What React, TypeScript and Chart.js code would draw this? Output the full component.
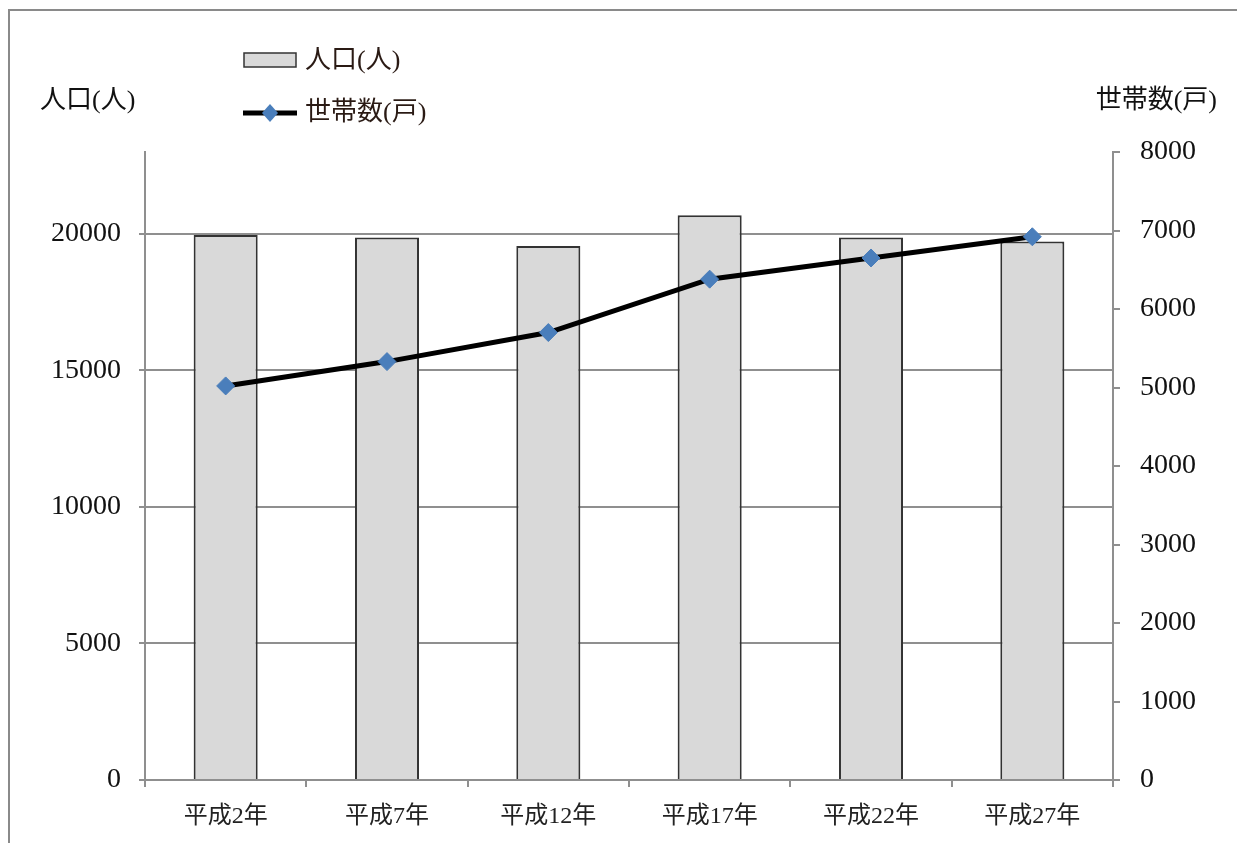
import React, { useEffect, useRef } from 'react';
import { Chart, registerables } from 'chart.js';

Chart.register(...registerables);

const categories = ['平成2年', '平成7年', '平成12年', '平成17年', '平成22年', '平成27年'];
const population = [19960, 19870, 19560, 20680, 19870, 19720];
const households = [5020, 5330, 5700, 6380, 6650, 6920];
const leftTicks = [0, 5000, 10000, 15000, 20000];
const rightTicks = [0, 1000, 2000, 3000, 4000, 5000, 6000, 7000, 8000];
const leftMax = 23000;
const rightMax = 8000;
const populationLabel = '人口(人)';
const householdsLabel = '世帯数(戸)';

const FONT = '"Liberation Serif", "Noto Sans CJK JP", serif';
const GRID = '#8f8f8f';
const BAR_FILL = '#d9d9d9';
const BAR_EDGE = '#333333';
const POINT = '#4a7ebb';

const overlayPlugin = {
  id: 'overlay',
  beforeDraw(chart: any) {
    const ctx = chart.ctx;
    ctx.save();
    ctx.fillStyle = '#ffffff';
    ctx.fillRect(0, 0, chart.width, chart.height);
    ctx.strokeStyle = '#8a8a8a';
    ctx.lineWidth = 2;
    ctx.beginPath();
    ctx.moveTo(9, chart.height);
    ctx.lineTo(9, 10);
    ctx.lineTo(chart.width, 10);
    ctx.stroke();
    ctx.restore();
  },
  afterDraw(chart: any) {
    const ctx = chart.ctx;
    ctx.save();
    ctx.font = `26px ${FONT}`;
    ctx.fillStyle = '#111';
    ctx.textBaseline = 'middle';
    ctx.textAlign = 'left';
    // axis titles
    ctx.fillText(populationLabel, 40, 101);
    ctx.textAlign = 'right';
    ctx.fillText(householdsLabel, 1217, 101);
    // legend: bar
    ctx.textAlign = 'left';
    ctx.fillStyle = BAR_FILL;
    ctx.fillRect(244, 53, 52, 14);
    ctx.strokeStyle = BAR_EDGE;
    ctx.lineWidth = 1.5;
    ctx.strokeRect(244, 53, 52, 14);
    ctx.fillStyle = '#2a1a14';
    ctx.fillText(populationLabel, 305, 61);
    // legend: line
    ctx.strokeStyle = '#000';
    ctx.lineWidth = 5;
    ctx.beginPath();
    ctx.moveTo(243, 113);
    ctx.lineTo(297, 113);
    ctx.stroke();
    ctx.fillStyle = POINT;
    ctx.beginPath();
    ctx.moveTo(270, 104);
    ctx.lineTo(278, 113);
    ctx.lineTo(270, 122);
    ctx.lineTo(262, 113);
    ctx.closePath();
    ctx.fill();
    ctx.fillStyle = '#2a1a14';
    ctx.fillText(householdsLabel, 305, 113);
    ctx.restore();
  },
};

export default function App() {
  const ref = useRef<HTMLCanvasElement | null>(null);
  useEffect(() => {
    if (!ref.current) return;
    const chart = new Chart(ref.current, {
      type: 'bar',
      data: {
        labels: categories,
        datasets: [
          {
            type: 'line',
            label: householdsLabel,
            data: households,
            yAxisID: 'y1',
            borderColor: '#000',
            borderWidth: 5,
            tension: 0,
            pointStyle: 'rectRot',
            pointRadius: 9,
            pointBackgroundColor: POINT,
            pointBorderColor: POINT,
            pointBorderWidth: 1,
            order: 0,
          } as any,
          {
            type: 'bar',
            label: populationLabel,
            data: population,
            yAxisID: 'y',
            backgroundColor: BAR_FILL,
            borderColor: BAR_EDGE,
            borderWidth: 2,
            barPercentage: 1,
            categoryPercentage: 0.397,
            order: 1,
          },
        ],
      },
      options: {
        responsive: false,
        animation: false,
        layout: { padding: { top: 152, left: 0, right: 0, bottom: 0 } },
        plugins: { legend: { display: false }, tooltip: { enabled: false } },
        scales: {
          x: {
            type: 'category',
            offset: true,
            grid: { offset: true, drawOnChartArea: false, drawTicks: true, tickLength: 7, color: GRID, lineWidth: 2 },
            border: { color: GRID, width: 2 },
            ticks: { font: { family: FONT, size: 24 }, color: '#222', padding: 15, maxRotation: 0 },
            afterFit: (s: any) => { s.height = 63; },
          },
          y: {
            position: 'left',
            min: 0,
            max: leftMax,
            afterBuildTicks: (s: any) => { s.ticks = leftTicks.map((v) => ({ value: v })); },
            grid: { color: GRID, lineWidth: 2, tickLength: 6 },
            border: { color: GRID, width: 2 },
            ticks: { font: { family: FONT, size: 28 }, color: '#111', padding: 18, callback: (v: any) => String(v) },
            afterFit: (s: any) => { s.width = 145; },
          },
          y1: {
            position: 'right',
            min: 0,
            max: rightMax,
            afterBuildTicks: (s: any) => { s.ticks = rightTicks.map((v) => ({ value: v })); },
            grid: { drawOnChartArea: false, color: GRID, lineWidth: 2, tickLength: 7 },
            border: { color: GRID, width: 2 },
            ticks: { font: { family: FONT, size: 28 }, color: '#111', padding: 20, callback: (v: any) => String(v) },
            afterFit: (s: any) => { s.width = 124; },
          },
        },
      },
      plugins: [overlayPlugin],
    });
    return () => chart.destroy();
  }, []);
  return (
    <div style={{ position: 'absolute', left: 0, top: 0, width: 1237, height: 843 }}>
      <canvas ref={ref} width={1237} height={843} style={{ display: 'block' }} />
    </div>
  );
}
